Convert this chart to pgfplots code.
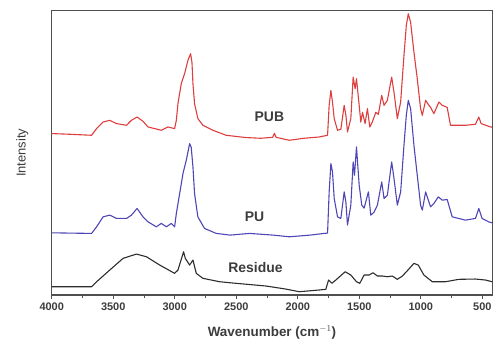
\documentclass[border=0pt]{standalone}
\usepackage{pgfplots}
\pgfplotsset{compat=1.18}
\usepackage{fontspec}
\setmainfont{Liberation Sans}
\definecolor{pubred}{RGB}{222,62,62}
\definecolor{publue}{RGB}{78,70,182}
\definecolor{resblack}{RGB}{45,45,45}
\definecolor{axgray}{RGB}{80,80,80}
\definecolor{txtgray}{RGB}{60,60,60}
\begin{document}
\begin{tikzpicture}
\path[use as bounding box] (-51.7bp,-52bp) rectangle (442.3bp,295bp);
\begin{axis}[
  at={(0,0)}, anchor=south west,
  scale only axis,
  width=440.5bp, height=284.5bp,
  axis lines=box,
  x dir=reverse,
  xmin=420, xmax=4000,
  ymin=0, ymax=285,
  ytick=\empty,
  xtick={500,1000,...,4000},
  minor x tick num=1,
  xtick pos=bottom,
  tick align=outside,
  major tick length=4bp,
  minor tick length=2.5bp,
  axis line style={axgray, line width=1.3bp},
  every tick/.style={axgray, line width=0.8bp},
  ticklabel style={font=\fontsize{11}{12}\selectfont\bfseries, text=txtgray},
  /pgf/number format/assume math mode=true,
  /pgf/number format/set thousands separator={},
  xlabel={Wavenumber (cm$^{-1}$)},
  ylabel={Intensity},
  xlabel style={font=\fontsize{13.5}{14}\selectfont\bfseries, text=txtgray, at={(axis description cs:0.5,-0.133)}, anchor=center},
  ylabel style={font=\fontsize{13}{14}\selectfont, text=txtgray, at={(axis description cs:-0.045,0.5)}, anchor=south},
  clip=false,
]
\addplot[pubred, line width=1.1bp, line join=round] coordinates {
(4000,161.7)(3850,161)(3676,160)(3635,166.7)(3582,173.3)(3528,175)(3473,171.7)(3392,170)(3352,175)(3306,178.3)(3258,174)(3217,168.3)
(3163,166.7)(3109,165)(3055,168.3)(3001,166.7)
(2987,175)(2974,191.7)(2947,211.7)(2920,221.7)(2893,235)(2871,241.7)(2860,233)(2852,211.7)(2839,191.7)(2812,176.7)(2771,170)(2690,165)(2582,160)(2420,157.7)
(2300,157)(2204,158)(2190,162)(2177,158)(2069,155)(1950,157)(1826,158.3)(1758,160)
(1745,190)(1731,205)(1718,193.3)(1704,176.7)(1677,165)(1650,166)(1623,190)(1609,180)(1596,163.3)(1569,176.7)(1550,218.3)(1534,206.7)(1523,216.7)
(1501,190)(1488,173.3)(1474,183)(1453,171.7)(1434,186.7)(1415,168.3)(1394,173.3)(1366,183)(1345,181)(1318,200)(1299,190)(1272,195)
(1237,218.3)(1218,203)(1191,176.7)(1164,193.3)(1137,240)(1118,270)(1102,281.7)(1083,273.3)(1056,243.3)(1029,216.7)(1002,186.7)(988,180)
(961,195)(934,190)(921,188)(894,181.7)(853,193.3)(826,190)(786,188)(759,170)(638,170)(556,171)(529,178.3)(510,171.7)(449,169)(421,168)
};
\addplot[publue, line width=1.1bp, line join=round] coordinates {
(4000,62.3)(3850,62)(3676,61.7)(3635,68.3)(3582,78.3)(3528,80)(3473,76.7)(3392,76.7)(3352,80)(3306,86.7)(3258,78.3)(3217,73.3)
(3150,68.3)(3109,71.7)(3068,68.3)(3028,71.7)(3001,68.3)
(2987,81.7)(2960,101.7)(2933,121.7)(2906,135)(2879,151.7)(2866,148)(2852,128.3)(2839,101.7)(2812,78.3)(2758,66.7)(2663,61.7)(2550,60)
(2393,61.7)(2200,60)(2069,58.3)(1900,60)(1785,61.7)(1758,62)
(1745,103.3)(1731,131.7)(1718,123.3)(1704,96.7)(1677,78.3)(1650,76.7)(1623,103.3)(1609,93)(1596,70)(1569,90)(1550,133.3)(1539,120)(1523,148.3)
(1501,110)(1480,90)(1461,87)(1426,103.3)(1407,80)(1380,83)(1353,90)(1318,113.3)(1299,96.7)(1272,100)(1237,133.3)(1218,116.7)(1191,90)
(1164,103.3)(1137,150)(1118,180)(1102,195)(1083,186.7)(1056,150)(1029,120)(1002,90)(988,85)(961,103.3)(921,88.3)(894,91.7)(858,98.3)
(826,95)(786,95.7)(745,78.3)(638,75)(556,76.7)(529,86.7)(502,76.7)(449,73.3)(421,72.3)
};
\addplot[resblack, line width=1.1bp, line join=round] coordinates {
(4000,8.3)(3933,8.3)(3676,8.3)(3635,13.3)(3528,25)(3420,36.7)(3311,41)(3230,38.3)(3122,30)(3001,21.7)(2974,25)(2928,43.3)(2914,36.7)
(2879,30)(2852,35)(2825,21.7)(2771,16.7)(2636,13.3)(2528,12)(2258,9)(2100,6)(1988,3.3)(1826,5)(1772,5.7)(1750,15)(1723,11.7)(1691,15)
(1615,23.3)(1569,20)(1523,13.3)(1496,11.7)(1461,20)(1421,20)(1388,22.3)(1353,19)(1312,19)(1272,18.3)(1231,19)(1191,15.7)(1150,19)
(1110,24.3)(1056,31.7)(1021,30)(975,20)(907,13.3)(799,13.3)(691,15.7)(556,16)(475,15)(421,13.3)
};
\node[font=\fontsize{14}{15}\selectfont\bfseries, text=txtgray] at (axis cs:2231,179) {PUB};
\node[font=\fontsize{14}{15}\selectfont\bfseries, text=txtgray] at (axis cs:2352,78) {PU};
\node[font=\fontsize{14}{15}\selectfont\bfseries, text=txtgray] at (axis cs:2344,28) {Residue};
\end{axis}
\end{tikzpicture}
\end{document}
